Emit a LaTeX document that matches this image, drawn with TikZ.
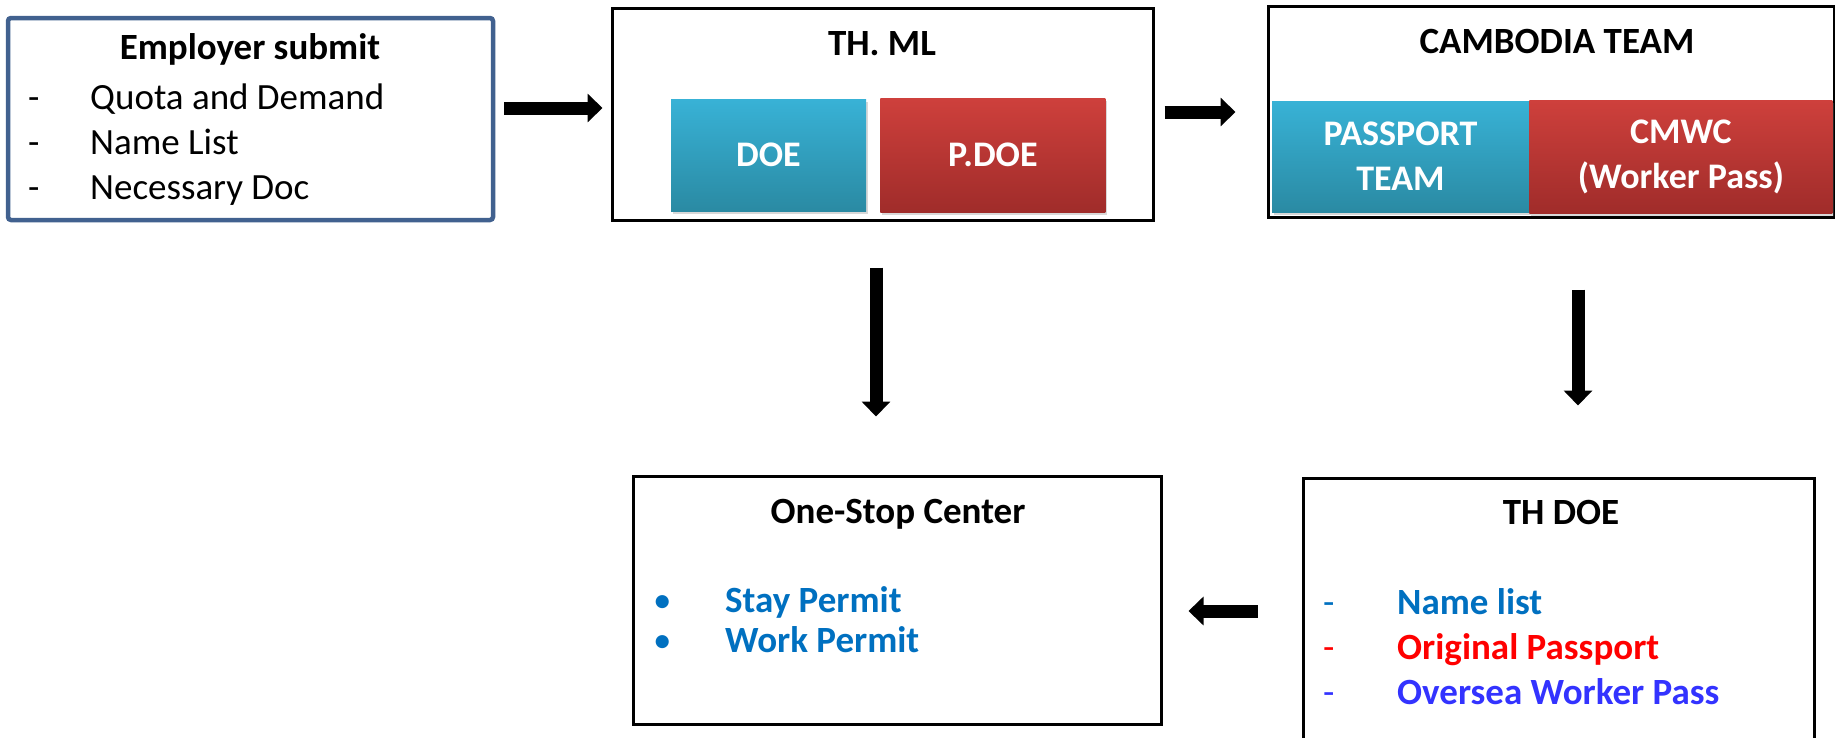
\documentclass[tikz,border=0pt]{standalone}
\usepackage{fontspec}
\setmainfont{Carlito}
\usetikzlibrary{arrows.meta,positioning,shadows}
\definecolor{frameblue}{RGB}{65,97,143}
\definecolor{tealtop}{RGB}{56,178,214}
\definecolor{tealbot}{RGB}{42,138,163}
\definecolor{redtop}{RGB}{206,64,60}
\definecolor{redbot}{RGB}{160,44,42}
\definecolor{itemblue}{RGB}{0,112,192}
\definecolor{itemred}{RGB}{255,0,0}
\definecolor{itemviolet}{RGB}{51,51,255}
\newcommand{\bigtext}{\fontsize{36}{45}\selectfont}
\newcommand{\listtext}{\fontsize{37}{45}\selectfont}
\tikzstyle{frame} = [rectangle, draw=black, line width=3pt, fill=white, inner sep=0pt]
\tikzstyle{employer} = [rectangle, rounded corners=3pt, draw=frameblue, line width=4.5pt, fill=white, inner sep=0pt]
\tikzstyle{tealbox} = [rectangle, inner sep=0pt, align=center, text=white, font=\bigtext\bfseries, top color=tealtop, bottom color=tealbot, drop shadow={opacity=0.3, shadow xshift=2pt, shadow yshift=-3pt}]
\tikzstyle{redbox} = [rectangle, inner sep=0pt, align=center, text=white, font=\bigtext\bfseries, top color=redtop, bottom color=redbot, drop shadow={opacity=0.3, shadow xshift=2pt, shadow yshift=-3pt}]
\tikzstyle{heading} = [anchor=base, inner sep=0pt, font=\listtext\bfseries]
\tikzstyle{items} = [anchor=base west, inner sep=0pt, align=left, font=\listtext]
\tikzstyle{blockarrow} = [line width=13pt, -{Triangle[length=15pt,width=28pt]}]
\begin{document}
\begin{tikzpicture}[x=1pt, y=-1pt]
	\useasboundingbox (0,0) rectangle (1835,737);
	% boxes
	\node (employer) [employer, minimum width=485pt, minimum height=202pt] at (250.5,119) {};
	\node (thml) [frame, minimum width=541pt, minimum height=212pt] at (882.5,114) {};
	\node (cambodia) [frame, minimum width=566pt, minimum height=211pt] at (1551,111.5) {};
	\node (onestop) [frame, minimum width=528pt, minimum height=248pt] at (897,600) {};
	\node (thdoe) [frame, minimum width=511pt, minimum height=282pt] at (1558.5,619) {};
	% titles
	\node (emptitle) [heading] at (250,59) {Employer submit};
	\node (thmltitle) [heading] at (882,55) {TH. ML};
	\node (camtitle) [heading] at (1557,53) {CAMBODIA TEAM};
	\node (ostitle) [heading] at (898,523) {One-Stop Center};
	\node (doetitle) [heading] at (1561,524) {TH DOE};
	% inner blocks
	\node (doe) [tealbox, minimum width=195pt, minimum height=112pt] at (768.5,155) {DOE};
	\node (pdoe) [redbox, minimum width=225pt, minimum height=114pt, right=14pt of doe] {P.DOE};
	\node (passport) [tealbox, minimum width=257pt, minimum height=111pt] at (1400.5,156.5) {PASSPORT\\TEAM};
	\node (cmwc) [redbox, minimum width=303pt, minimum height=113pt, right=0pt of passport] {CMWC\\(Worker Pass)};
	% lists
	\node (empitems) [items] at (28,109) {\begin{tabular}[t]{@{}p{62pt}@{}l@{}}
		- & Quota and Demand\\
		- & Name List\\
		- & Necessary Doc
	\end{tabular}};
	\node (ositems) [items, font=\fontsize{37}{40}\selectfont] at (653,612) {\begin{tabular}[t]{@{}p{72pt}@{}l@{}}
		\leavevmode\color{itemblue}• & \color{itemblue}\bfseries Stay Permit\\
		\leavevmode\color{itemblue}• & \color{itemblue}\bfseries Work Permit
	\end{tabular}};
	\node (doeitems) [items] at (1323,614) {\begin{tabular}[t]{@{}p{74pt}@{}l@{}}
		\leavevmode\color{itemblue}- & \color{itemblue}\bfseries Name list\\
		\leavevmode\color{itemred}- & \color{itemred}\bfseries Original Passport\\
		\leavevmode\color{itemviolet}- & \color{itemviolet}\bfseries Oversea Worker Pass
	\end{tabular}};
	% arrows
	\draw [blockarrow, shorten <=9pt, shorten >=8pt] ([yshift=11pt]employer.east) -- ([yshift=6pt]thml.west);
	\draw [blockarrow, shorten <=10pt, shorten >=31pt] ([yshift=2pt]thml.east) -- ([yshift=-0.5pt]cambodia.west);
	\draw [blockarrow, shorten <=46pt, shorten >=58pt] ([xshift=-6.5pt]thml.south) -- ([xshift=-21pt]onestop.north);
	\draw [blockarrow, shorten <=71pt, shorten >=71pt] ([xshift=27pt]cambodia.south) -- ([xshift=19.5pt]thdoe.north);
	\draw [blockarrow, shorten <=44pt, shorten >=26pt] ([yshift=8pt]thdoe.west) -- ([yshift=-11pt]onestop.east);
\end{tikzpicture}
\end{document}
